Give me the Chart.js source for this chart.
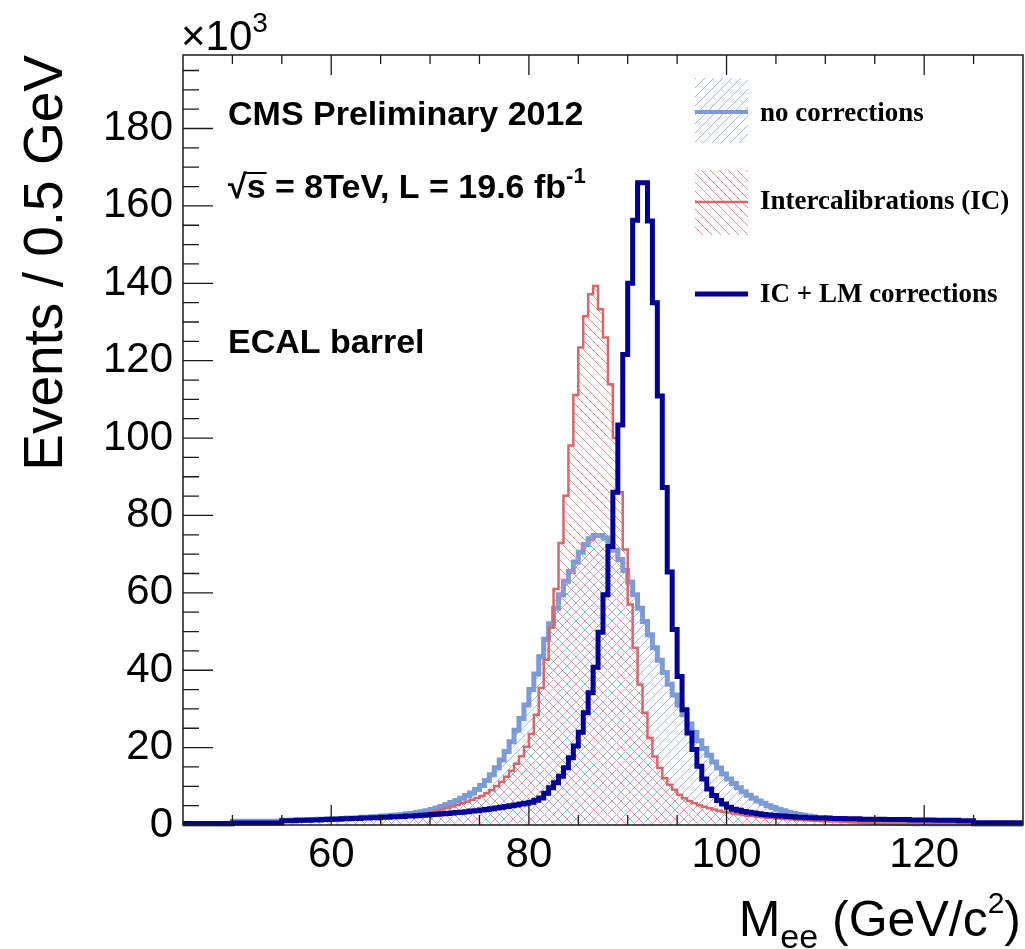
<!DOCTYPE html>
<html>
<head>
<meta charset="utf-8">
<script src="https://cdn.jsdelivr.net/npm/chart.js@4.4.1/dist/chart.umd.min.js"></script>
<style>
  html, body { margin: 0; padding: 0; background: #fff; }
  #wrap { width: 1025px; height: 949px; }
</style>
</head>
<body>
<div id="wrap"><canvas id="myChart" width="1025" height="949"></canvas></div>
<script>
// binning of the Mee histograms (GeV)
const binLow = 45;
const binWidth = 0.5;
const xMin = 45;
const xMax = 130;
const yMax = 199;
const xTickValues = [60, 80, 100, 120];
const yTickValues = [0, 20, 40, 60, 80, 100, 120, 140, 160, 180];

// events / 0.5 GeV, in units of 10^3, one value per bin from 45 to 130 GeV
const noCorrections = [
	0.2, 0.2, 0.2, 0.2, 0.2, 0.2, 0.2, 0.2, 0.2, 0.2,
	1.0, 1.0, 1.0, 1.0, 1.0, 1.0, 1.0, 1.0, 1.0, 1.0,
	1.2, 1.2, 1.3, 1.3, 1.3, 1.4, 1.4, 1.5, 1.5, 1.6,
	1.6, 1.7, 1.7, 1.8, 1.8, 1.9, 2.0, 2.0, 2.1, 2.2,
	2.3, 2.4, 2.5, 2.6, 2.7, 2.9, 3.0, 3.2, 3.4, 3.7,
	4.0, 4.4, 4.8, 5.3, 5.8, 6.3, 6.9, 7.6, 8.3, 9.2,
	10.2, 11.5, 13.0, 14.8, 16.8, 19.0, 21.5, 24.5, 27.5, 31.0,
	35.0, 39.0, 43.5, 48.0, 52.0, 56.0, 59.5, 63.0, 65.5, 68.0,
	70.5, 72.5, 74.0, 74.8, 74.8, 74.2, 72.8, 71.0, 68.6, 65.8,
	62.8, 59.5, 56.0, 52.6, 49.2, 45.8, 42.6, 39.4, 36.4, 33.6,
	31.0, 28.5, 26.1, 23.9, 21.8, 19.8, 18.0, 16.3, 14.7, 13.2,
	11.9, 10.7, 9.6, 8.6, 7.7, 6.9, 6.2, 5.6, 5.0, 4.5,
	4.1, 3.7, 3.3, 3.0, 2.7, 2.5, 2.3, 2.1, 1.9, 1.8,
	1.6, 1.5, 1.4, 1.3, 1.2, 1.1, 1.0, 0.9, 0.8, 0.7,
	0.6, 0.6, 0.5, 0.5, 0.5, 0.4, 0.4, 0.4, 0.3, 0.3,
	0.3, 0.3, 0.3, 0.3, 0.3, 0.3, 0.3, 0.3, 0.3, 0.3,
	0.2, 0.2, 0.2, 0.2, 0.2, 0.2, 0.2, 0.2, 0.2, 0.2
];

const interCalib = [
	0.2, 0.2, 0.2, 0.2, 0.2, 0.2, 0.2, 0.2, 0.2, 0.2,
	0.5, 0.5, 0.5, 0.5, 0.5, 0.5, 0.5, 0.5, 0.5, 0.5,
	1.0, 1.0, 1.1, 1.1, 1.1, 1.2, 1.2, 1.2, 1.3, 1.3,
	1.3, 1.4, 1.4, 1.5, 1.5, 1.6, 1.6, 1.7, 1.7, 1.8,
	1.9, 2.0, 2.1, 2.2, 2.3, 2.4, 2.5, 2.7, 2.8, 3.0,
	3.4, 3.7, 4.0, 4.4, 4.8, 5.2, 5.6, 6.0, 6.5, 7.0,
	7.5, 8.2, 9.0, 10.0, 11.2, 12.5, 14.0, 15.8, 17.8, 20.2,
	23.5, 28.5, 35.4, 42.7, 51.0, 61.0, 72.9, 85.1, 98.1, 111.1,
	123.4, 131.5, 137.2, 139.3, 133.3, 126.0, 113.9, 100.0, 86.0, 71.2,
	57.0, 45.8, 36.3, 29.0, 22.5, 17.7, 14.7, 12.1, 10.4, 9.1,
	7.8, 6.9, 6.2, 5.6, 5.1, 4.7, 4.3, 4.0, 3.7, 3.4,
	3.2, 3.0, 2.8, 2.6, 2.4, 2.3, 2.1, 2.0, 1.9, 1.8,
	1.7, 1.6, 1.5, 1.4, 1.3, 1.3, 1.2, 1.1, 1.1, 1.0,
	1.0, 0.9, 0.9, 0.8, 0.8, 0.7, 0.7, 0.6, 0.6, 0.5,
	0.5, 0.5, 0.4, 0.4, 0.4, 0.4, 0.3, 0.3, 0.3, 0.3,
	0.3, 0.3, 0.3, 0.3, 0.3, 0.3, 0.3, 0.3, 0.3, 0.3,
	0.2, 0.2, 0.2, 0.2, 0.2, 0.2, 0.2, 0.2, 0.2, 0.2
];

const icLmCorrections = [
	0.4, 0.4, 0.4, 0.4, 0.4, 0.4, 0.4, 0.4, 0.4, 0.4,
	0.5, 0.5, 0.5, 0.5, 0.5, 0.5, 0.5, 0.5, 0.5, 0.5,
	1.1, 1.1, 1.1, 1.2, 1.2, 1.2, 1.3, 1.3, 1.4, 1.4,
	1.5, 1.5, 1.6, 1.6, 1.7, 1.7, 1.8, 1.8, 1.9, 1.9,
	2.0, 2.0, 2.1, 2.1, 2.2, 2.3, 2.3, 2.4, 2.5, 2.6,
	2.7, 2.8, 2.9, 3.0, 3.1, 3.2, 3.3, 3.4, 3.6, 3.7,
	3.9, 4.0, 4.2, 4.4, 4.6, 4.8, 5.0, 5.2, 5.4, 5.6,
	5.9, 6.4, 7.0, 8.2, 9.6, 10.9, 12.6, 14.8, 17.4, 20.4,
	24.0, 29.0, 34.2, 40.8, 49.8, 59.5, 72.0, 86.0, 103.4, 121.6,
	140.0, 156.3, 166.0, 166.0, 156.1, 135.0, 110.9, 87.2, 65.4, 50.5,
	38.4, 29.8, 23.8, 19.5, 15.2, 11.9, 9.3, 7.6, 6.3, 5.4,
	4.6, 4.1, 3.8, 3.5, 3.3, 3.1, 2.9, 2.7, 2.6, 2.5,
	2.4, 2.3, 2.2, 2.1, 2.0, 2.0, 1.9, 1.9, 1.8, 1.8,
	1.8, 1.7, 1.7, 1.7, 1.6, 1.6, 1.6, 1.5, 1.5, 1.5,
	1.5, 1.5, 1.4, 1.4, 1.4, 1.4, 1.4, 1.3, 1.3, 1.3,
	1.3, 1.3, 1.2, 1.2, 1.2, 1.2, 1.2, 1.1, 1.1, 1.1,
	0.6, 0.6, 0.6, 0.6, 0.6, 0.6, 0.6, 0.6, 0.6, 0.6
];

const seriesLabels = ["no corrections", "Intercalibrations (IC)", "IC + LM corrections"];

const SANS = "'Liberation Sans', Arial, Helvetica, sans-serif";
const SERIF = "'Liberation Serif', 'Times New Roman', serif";

const colors = {
	light: "#7b9ad8",
	lightHatch: "#9fb5e6",
	red: "#d9676a",
	redHatch: "#e58f90",
	dark: "#000096"
};

// histogram outline: one point per lower bin edge, plus the last upper edge
function toSteps(values) {
	const pts = values.map((v, i) => ({ x: binLow + i * binWidth, y: v }));
	pts.push({ x: binLow + values.length * binWidth, y: values[values.length - 1] });
	return pts;
}

function makeHatch(color, rising) {
	const s = 9;
	const c = document.createElement("canvas");
	c.width = s;
	c.height = s;
	const g = c.getContext("2d");
	g.strokeStyle = color;
	g.lineWidth = 1;
	g.beginPath();
	if (rising) {
		g.moveTo(-1, s + 1); g.lineTo(s + 1, -1);
		g.moveTo(-1, 1); g.lineTo(1, -1);
		g.moveTo(s - 1, s + 1); g.lineTo(s + 1, s - 1);
	} else {
		g.moveTo(-1, -1); g.lineTo(s + 1, s + 1);
		g.moveTo(-1, s - 1); g.lineTo(1, s + 1);
		g.moveTo(s - 1, -1); g.lineTo(s + 1, 1);
	}
	g.stroke();
	return g.createPattern(c, "repeat");
}

const lightHatch = makeHatch(colors.lightHatch, true);
const redHatch = makeHatch(colors.redHatch, false);

// text made of runs with sub/superscripts
function drawRuns(ctx, runs, x, y, align) {
	let total = 0;
	for (const r of runs) {
		ctx.font = r.font;
		r.w = ctx.measureText(r.t).width;
		total += r.w;
	}
	let cx = align === "right" ? x - total : x;
	ctx.textAlign = "left";
	for (const r of runs) {
		ctx.font = r.font;
		ctx.fillText(r.t, cx, y + (r.dy || 0));
		cx += r.w;
	}
	return cx;
}

const rootDecor = {
	id: "rootDecor",
	afterDatasetsDraw(chart) {
		const { ctx, chartArea: a } = chart;
		const xs = chart.scales.x;
		const ys = chart.scales.y;
		ctx.save();

		// frame
		ctx.strokeStyle = "#1a1a1a";
		ctx.lineWidth = 1.5;
		ctx.strokeRect(a.left, a.top, a.right - a.left, a.bottom - a.top);

		// inward ticks, y axis
		ctx.lineWidth = 1.3;
		ctx.beginPath();
		for (let k = 0; k * 5 <= yMax; k++) {
			const v = k * 5;
			const py = ys.getPixelForValue(v);
			const len = v % 20 === 0 ? 30 : 16;
			ctx.moveTo(a.left, py);
			ctx.lineTo(a.left + len, py);
		}
		// x axis (bottom and top)
		for (let v = 50; v < xMax; v += 5) {
			const px = xs.getPixelForValue(v);
			const major = v % 20 === 0;
			ctx.moveTo(px, a.bottom);
			ctx.lineTo(px, a.bottom - (major ? 20 : 10));
			ctx.moveTo(px, a.top);
			ctx.lineTo(px, a.top + (major ? 20 : 9));
		}
		ctx.stroke();

		ctx.fillStyle = "#000";
		ctx.textBaseline = "alphabetic";

		// exponent above the y axis
		drawRuns(ctx, [
			{ t: "\u00d710", font: `42px ${SANS}` },
			{ t: "3", font: `28px ${SANS}`, dy: -18 }
		], a.left - 2, 50, "left");

		// y axis title
		ctx.save();
		ctx.translate(62, a.top);
		ctx.rotate(-Math.PI / 2);
		ctx.font = `55px ${SANS}`;
		ctx.textAlign = "right";
		ctx.fillText("Events / 0.5 GeV", 0, 0);
		ctx.restore();

		// x axis title
		drawRuns(ctx, [
			{ t: "M", font: `50px ${SANS}` },
			{ t: "ee", font: `34px ${SANS}`, dy: 12 },
			{ t: " (GeV/c", font: `50px ${SANS}` },
			{ t: "2", font: `30px ${SANS}`, dy: -23 },
			{ t: ")", font: `50px ${SANS}` }
		], 1021, 936, "right");

		// labels inside the frame
		const lab = `bold 34px ${SANS}`;
		ctx.font = lab;
		ctx.textAlign = "left";
		ctx.fillText("CMS Preliminary 2012", 228, 125);
		ctx.fillText("ECAL barrel", 228, 353);

		const rootW = ctx.measureText("\u221a").width;
		ctx.fillText("\u221a", 228, 198);
		const sW = ctx.measureText("s").width;
		ctx.fillRect(228 + rootW - 1, 172, sW + 2, 2);
		drawRuns(ctx, [
			{ t: "s = 8TeV, L = 19.6 fb", font: lab },
			{ t: "-1", font: `bold 22px ${SANS}`, dy: -15 }
		], 228 + rootW, 198, "left");

		// legend
		const bx = 695, bw = 53;
		ctx.fillStyle = lightHatch;
		ctx.fillRect(bx, 78, bw, 65);
		ctx.fillStyle = redHatch;
		ctx.fillRect(bx, 170, bw, 65);
		ctx.lineCap = "butt";
		ctx.strokeStyle = colors.light;
		ctx.lineWidth = 4;
		ctx.beginPath(); ctx.moveTo(bx, 112); ctx.lineTo(bx + bw, 112); ctx.stroke();
		ctx.strokeStyle = colors.red;
		ctx.lineWidth = 2.5;
		ctx.beginPath(); ctx.moveTo(bx, 202); ctx.lineTo(bx + bw, 202); ctx.stroke();
		ctx.strokeStyle = colors.dark;
		ctx.lineWidth = 5;
		ctx.beginPath(); ctx.moveTo(bx, 294); ctx.lineTo(bx + bw, 294); ctx.stroke();

		ctx.fillStyle = "#000";
		ctx.font = `bold 27px ${SERIF}`;
		ctx.fillText(seriesLabels[0], 760, 121);
		ctx.fillText(seriesLabels[1], 760, 209);
		ctx.fillText(seriesLabels[2], 760, 302);

		ctx.restore();
	}
};

const ctx = document.getElementById("myChart").getContext("2d");

const myChart = new Chart(ctx, {
	type: "line",
	data: {
		datasets: [
			{
				label: seriesLabels[2],
				data: toSteps(icLmCorrections),
				stepped: true,
				borderColor: colors.dark,
				borderWidth: 5,
				fill: false,
				pointRadius: 0,
				order: 0,
				clip: 6
			},
			{
				label: seriesLabels[1],
				data: toSteps(interCalib),
				stepped: true,
				borderColor: colors.red,
				borderWidth: 2.5,
				backgroundColor: redHatch,
				fill: "origin",
				pointRadius: 0,
				order: 1,
				clip: 6
			},
			{
				label: seriesLabels[0],
				data: toSteps(noCorrections),
				stepped: true,
				borderColor: colors.light,
				borderWidth: 5,
				backgroundColor: lightHatch,
				fill: "origin",
				pointRadius: 0,
				order: 2,
				clip: 6
			}
		]
	},
	plugins: [rootDecor],
	options: {
		responsive: false,
		devicePixelRatio: 1,
		animation: false,
		layout: { padding: { top: 55, right: 2, left: 0, bottom: 0 } },
		elements: { line: { borderJoinStyle: "miter", borderCapStyle: "butt", tension: 0 } },
		scales: {
			x: {
				type: "linear",
				min: xMin,
				max: xMax,
				grid: { display: false, drawTicks: false },
				border: { display: false },
				afterFit: (s) => { s.height = 124; },
				afterBuildTicks: (s) => { s.ticks = xTickValues.map((v) => ({ value: v })); },
				ticks: {
					autoSkip: false,
					maxRotation: 0,
					padding: 5,
					color: "#000",
					font: { family: SANS, size: 42 }
				}
			},
			y: {
				type: "linear",
				min: 0,
				max: yMax,
				grid: { display: false, drawTicks: false },
				border: { display: false },
				afterFit: (s) => { s.width = 183; },
				afterBuildTicks: (s) => { s.ticks = yTickValues.map((v) => ({ value: v })); },
				ticks: {
					autoSkip: false,
					padding: 10,
					color: "#000",
					font: { family: SANS, size: 42 }
				}
			}
		},
		plugins: {
			legend: { display: false },
			tooltip: { enabled: false }
		}
	}
});
</script>
</body>
</html>
